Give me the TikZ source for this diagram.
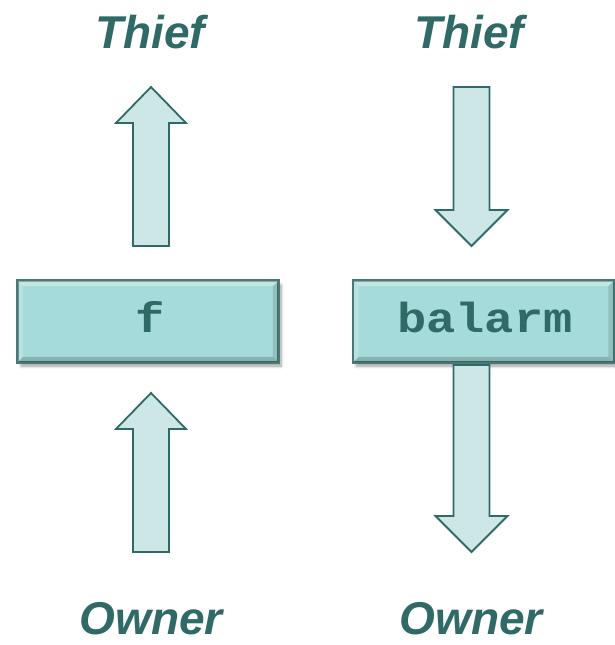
\documentclass[tikz,border=0pt]{standalone}
\usepackage{fontspec}
\setmainfont{Liberation Sans}
\newfontfamily\codefont[FakeStretch=1.16]{Liberation Mono}
\usepackage{tikz}
\usetikzlibrary{
  calc,
  shadows.blur
}
\definecolor{tealtext}{HTML}{2F6A67}
\definecolor{boxfill}{HTML}{A5DBDA}
\definecolor{boxline}{HTML}{4A7876}
\definecolor{arrowfill}{HTML}{CDE7E6}

\begin{document}
\begin{tikzpicture}[x=1pt, y=-1pt,
    role/.style={font=\fontsize{46}{50}\selectfont\bfseries\itshape,
                 text=tealtext, anchor=base, inner sep=0pt, text depth=0pt},
    fbox/.style={fill=boxfill, draw=boxline, line width=1.6pt,
                 minimum width=260pt, minimum height=81pt, inner sep=0pt,
                 blur shadow={shadow xshift=3pt, shadow yshift=-4pt,
                              shadow blur steps=6, shadow blur radius=3pt}},
    fname/.style={font=\fontsize{42}{44}\selectfont\codefont\bfseries,
                  text=tealtext, anchor=base},
    barrow/.style={fill=arrowfill, draw=tealtext, line width=1.8pt, line join=miter},
  ]
  \useasboundingbox (0,0) rectangle (615,645);

  % labels
  \node[role] (thiefL) at (150,48)  {Thief};
  \node[role] (thiefR) at (469,48)  {Thief};
  \node[role] (ownerL) at (151,634) {Owner};
  \node[role] (ownerR) at (471,634) {Owner};

  % function boxes
  \node[fbox] (fn) at (148,321.5)   {};
  \node[fbox] (bal) at (483.5,321.5) {};
  \foreach \b in {fn,bal}{
    \fill[white, opacity=.35]
      (\b.north west) -- (\b.north east) -- ($(\b.north east)+(-6pt,-6pt)$)
      -- ($(\b.north west)+(6pt,-6pt)$) -- cycle;
    \fill[white, opacity=.2]
      (\b.north west) -- ($(\b.north west)+(6pt,-6pt)$)
      -- ($(\b.south west)+(6pt,6pt)$) -- (\b.south west) -- cycle;
    \fill[black, opacity=.12]
      (\b.north east) -- ($(\b.north east)+(-6pt,-6pt)$)
      -- ($(\b.south east)+(-6pt,6pt)$) -- (\b.south east) -- cycle;
    \fill[black, opacity=.18]
      (\b.south west) -- ($(\b.south west)+(6pt,6pt)$)
      -- ($(\b.south east)+(-6pt,6pt)$) -- (\b.south east) -- cycle;
    \draw[boxline, line width=1.6pt] (\b.north west) rectangle (\b.south east);
  }
  \node[fname] (fnlabel) at (150,332) {f};
  \node[fname] (ballabel) at (485,332) {balarm};

  % block arrows pointing up (x, tip, tail)
  \foreach \cx/\yt/\yb in {151/87/246, 151/393/552}{
    \draw[barrow] (\cx-18,\yb) -- (\cx-18,\yt+36) -- (\cx-35,\yt+36)
      -- (\cx,\yt) -- (\cx+35,\yt+36) -- (\cx+18,\yt+36) -- (\cx+18,\yb) -- cycle;
  }
  % block arrows pointing down (x, tail, tip)
  \foreach \cx/\yt/\yb in {471.5/87/246, 471.5/365/552}{
    \draw[barrow] (\cx-18,\yt) -- (\cx-18,\yb-36) -- (\cx-36,\yb-36)
      -- (\cx,\yb) -- (\cx+36,\yb-36) -- (\cx+18,\yb-36) -- (\cx+18,\yt) -- cycle;
  }
\end{tikzpicture}
\end{document}
